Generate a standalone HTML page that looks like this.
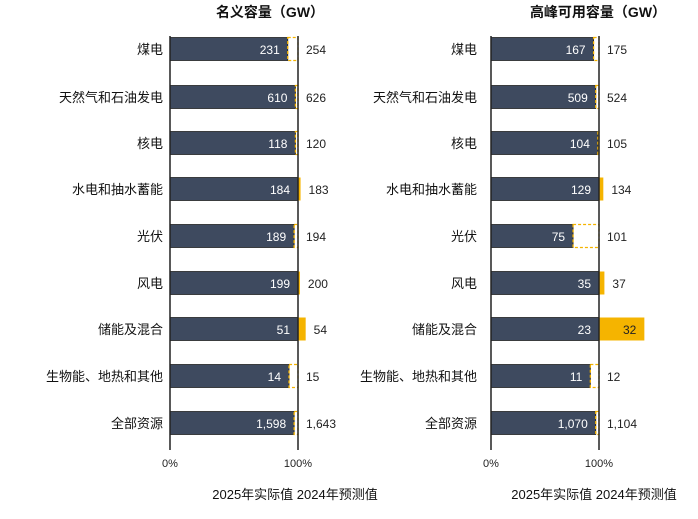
<!DOCTYPE html>
<html><head><meta charset="utf-8"><style>
body{margin:0;background:#fff;width:698px;height:514px;overflow:hidden;font-family:"Liberation Sans","Noto Sans CJK SC",sans-serif}
</style></head><body>
<svg id="c" width="698" height="514" style="font-family:'Liberation Sans','Noto Sans CJK SC',sans-serif"></svg>
<script>
const categories=["煤电","天然气和石油发电","核电","水电和抽水蓄能","光伏","风电","储能及混合","生物物能、地热和其他".replace("物物","物"),"全部资源"];
const nomActual=["231","610","118","184","189","199","51","14","1,598"];
const nomForecast=["254","626","120","183","194","200","54","15","1,643"];
const nomBarPct=[92,98,98,100,97,100,100,93,97];
const nomEndPct=[100,100,100,102,100,101.5,106,100,100];
const peakActual=["167","509","104","129","75","35","23","11","1,070"];
const peakForecast=["175","524","105","134","101","37","32","12","1,104"];
const peakBarPct=[95,97,99,100,76,100,100,92,97];
const peakEndPct=[100,100,100,104,100,105,142,100,100];
const rowY=[49,97,143,189,236,283,329,376,423];
const svg=document.getElementById('c');const NS="http://www.w3.org/2000/svg";
function mk(t,a,txt){const e=document.createElementNS(NS,t);for(const k in a)e.setAttribute(k,a[k]);if(txt!=null)e.textContent=txt;svg.appendChild(e);return e;}
function panel(id,x0,x100,labelRight,act,fc,bp,ep,title,titleX){
 const sx=p=>x0+(x100-x0)*p/100;
 let t=mk('text',{x:titleX,y:17,'text-anchor':'middle','font-size':14,'font-weight':'bold',fill:'#111'},title);
 
 categories.forEach((c,i)=>{
  const y=rowY[i],h=23,top=y-h/2;
  let l=mk('text',{x:labelRight,y:y+5,'text-anchor':'end','font-size':13,fill:'#111'},c);
  
  const bx=sx(bp[i]);
  let b=mk('rect',{x:x0,y:top,width:bx-x0,height:h,fill:'#3e4a5f',stroke:'#222','stroke-width':0.8});
  
  let ex;
  if(ep[i]>100){ex=sx(ep[i]);let r=mk('rect',{x:sx(100),y:top,width:ex-sx(100),height:h,fill:'#f5b400'});
   }
  else{ex=sx(100);if(x100-bx>1){let r=mk('rect',{x:bx,y:top,width:x100-bx,height:h,fill:'none',stroke:'#f5b400','stroke-width':1.3,'stroke-dasharray':'3,2'});
   }}
  let a=mk('text',{x:bx-8,y:y+5,'text-anchor':'end','font-size':12,fill:'#fff'},act[i]);
  
  let f=mk('text',{x:ex+(ep[i]>120?-8:8),y:y+5,'text-anchor':ep[i]>120?'end':'start','font-size':12,fill:'#222'},fc[i]);
  
 });
 [x0,x100].forEach((x,k)=>{let ln=mk('line',{x1:x,x2:x,y1:36,y2:450,stroke:'#222','stroke-width':1.5});
  
  let tk=mk('text',{x:x,y:467,'text-anchor':'middle','font-size':11,fill:'#222'},k?'100%':'0%');
  });
}
panel('nominal',170,298,163,nomActual,nomForecast,nomBarPct,nomEndPct,'名义容量（GW）',270);
panel('peak',491,599,477,peakActual,peakForecast,peakBarPct,peakEndPct,'高峰可用容量（GW）',598);
[[295,'nominal'],[594,'peak']].forEach(([x,id])=>{let t=mk('text',{x:x,y:499,'text-anchor':'middle','font-size':13,fill:'#111'},'2025年实际值 2024年预测值');
 });
</script></body></html>
